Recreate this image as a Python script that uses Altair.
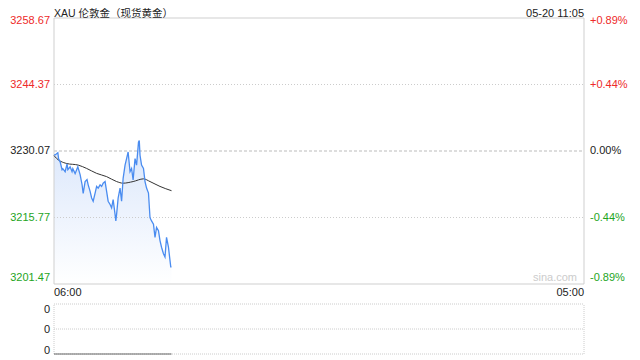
import altair as alt
import pandas as pd

# ---------------- data ----------------
title_text = "XAU 伦敦金（现货黄金）"
stamp_text = "05-20 11:05"
prev_close = 3230.07

# minutes after 06:00 (session 06:00 -> 05:00 = 1380 min)
minutes = [0, 3, 10, 12, 16, 21, 23, 29, 34, 36, 42, 47, 49, 55, 60, 62, 68, 73, 76, 81,
           86, 89, 94, 98, 102, 107, 111, 115, 120, 124, 128, 133, 137, 141, 146, 150, 154,
           159, 161, 163, 167, 172, 176, 180, 185, 189, 193, 198, 202, 206, 211, 215, 220,
           222, 224, 228, 233, 237, 241, 246, 250, 254, 259, 263, 267, 272, 276, 280, 285,
           289, 293, 298, 302, 304, 306]
prices = [3229.22, 3229.22, 3229.71, 3228.38, 3227.74, 3226.05, 3226.26, 3225.62, 3227.32,
          3226.05, 3226.68, 3225.62, 3226.26, 3225.20, 3226.26, 3226.68, 3224.99, 3222.87,
          3220.96, 3223.50, 3223.93, 3222.80, 3221.39, 3219.97, 3219.27, 3221.03, 3222.45,
          3222.09, 3222.80, 3222.45, 3223.15, 3223.50, 3221.39, 3219.27, 3218.57, 3217.85,
          3219.63, 3216.45, 3215.03, 3216.45, 3219.97, 3222.09, 3219.27, 3224.20, 3227.04,
          3228.44, 3229.86, 3225.62, 3226.32, 3223.86, 3228.44, 3227.04, 3231.98, 3232.34,
          3229.16, 3227.04, 3226.32, 3223.50, 3222.09, 3221.03, 3215.73, 3215.03, 3214.33,
          3211.50, 3213.62, 3212.92, 3210.80, 3209.38, 3207.98, 3207.26, 3211.50, 3209.38,
          3206.56, 3205.14, 3205.14]

avg_minutes = [0, 3, 33, 63, 85, 111, 137, 163, 180, 206, 233, 250, 276, 306]
avg_prices = [3229.10, 3228.80, 3227.38, 3227.04, 3226.32, 3225.26, 3224.56, 3223.50,
              3223.15, 3223.50, 3224.08, 3223.50, 3222.45, 3221.53]

price_levels = [3258.67, 3244.37, 3230.07, 3215.77, 3201.47]
pct_labels = ["+0.89%", "+0.44%", "0.00%", "-0.44%", "-0.89%"]
grid_levels = [3244.37, 3215.77]
time_labels = ["06:00", "05:00"]
time_minutes = [0, 1380]
vol_minutes = [0, 306]
vol_values = [0, 0]
vol_levels = [2, 1, 0]
vol_labels = ["0", "0", "0"]

# ---------------- styling ----------------
FONT = "Liberation Sans, Arial, Noto Sans CJK SC"
RED = "#ee2a2a"
GREEN = "#1ea51e"
DARK = "#222222"
FRAME = "#cfcfcf"
W, H, PH = 530, 336, 266
VTOP = 286
XMAX = 1380

xs = alt.Scale(domain=[0, XMAX], nice=False, zero=False)
ys = alt.Scale(domain=[price_levels[-1], price_levels[0]], range=[PH, 0], nice=False, zero=False)
vs = alt.Scale(domain=[0, 2], range=[H, VTOP], nice=False, zero=False)

df = pd.DataFrame({"minute": minutes, "price": prices})
avg_df = pd.DataFrame({"minute": avg_minutes, "avg": avg_prices})
lev_df = pd.DataFrame({"level": price_levels, "pct": pct_labels})
grid_df = pd.DataFrame({"level": grid_levels})
zero_df = pd.DataFrame({"level": [prev_close]})
frame_df = pd.DataFrame({
    "x": [0, XMAX, 0, 0], "x2": [0, XMAX, XMAX, XMAX],
    "y": [price_levels[0], price_levels[0], price_levels[0], price_levels[-1]],
    "y2": [price_levels[-1], price_levels[-1], price_levels[0], price_levels[-1]],
})

gradient = alt.Gradient(
    gradient="linear",
    stops=[alt.GradientStop(color="#ffffff", offset=0),
           alt.GradientStop(color="#d8e5fb", offset=1)],
    x1=1, x2=1, y1=1, y2=0,
)

area = alt.Chart(df).mark_area(color=gradient, opacity=0.95).encode(
    x=alt.X("minute:Q", scale=xs, axis=None),
    y=alt.Y("price:Q", scale=ys, axis=None),
    y2=alt.datum(price_levels[-1]),
)
grid = alt.Chart(grid_df).mark_rule(color="#cccccc", strokeDash=[1, 2], strokeWidth=1).encode(
    y=alt.Y("level:Q", scale=ys, axis=None), x=alt.value(0), x2=alt.value(W))
zero_line = alt.Chart(zero_df).mark_rule(color="#bbbbbb", strokeDash=[3, 2], strokeWidth=1).encode(
    y=alt.Y("level:Q", scale=ys, axis=None), x=alt.value(0), x2=alt.value(W))
frame = alt.Chart(frame_df).mark_rule(color=FRAME, strokeWidth=1).encode(
    x=alt.X("x:Q", scale=xs, axis=None), x2="x2:Q",
    y=alt.Y("y:Q", scale=ys, axis=None), y2="y2:Q")
line = alt.Chart(df).mark_line(color="#4a8cf0", strokeWidth=1.3).encode(
    x=alt.X("minute:Q", scale=xs, axis=None),
    y=alt.Y("price:Q", scale=ys, axis=None))
avg = alt.Chart(avg_df).mark_line(color="#333333", strokeWidth=1, interpolate="monotone").encode(
    x=alt.X("minute:Q", scale=xs, axis=None),
    y=alt.Y("avg:Q", scale=ys, axis=None))

color_enc = alt.Color("sign:N", scale=alt.Scale(domain=["up", "flat", "down"], range=[RED, DARK, GREEN]), legend=None)


def level_labels(expr, dy):
    base = alt.Chart(lev_df).transform_calculate(
        sign=f"datum.level > {prev_close} ? 'up' : (datum.level < {prev_close} ? 'down' : 'flat')"
    ).transform_filter(expr)
    left = base.mark_text(align="right", baseline="middle", dy=dy, fontSize=11, font=FONT).encode(
        x=alt.value(-4), y=alt.Y("level:Q", scale=ys, axis=None),
        text=alt.Text("level:Q", format=".2f"), color=color_enc)
    right = base.mark_text(align="left", baseline="middle", dy=dy, fontSize=11, font=FONT).encode(
        x=alt.value(W + 6), y=alt.Y("level:Q", scale=ys, axis=None),
        text="pct:N", color=color_enc)
    return left + right


top_lbl = level_labels(f"datum.level >= {price_levels[0]}", 3)
mid_lbl = level_labels(f"datum.level < {price_levels[0]} && datum.level > {price_levels[-1]}", 0)
bot_lbl = level_labels(f"datum.level <= {price_levels[-1]}", -6)

title = alt.Chart(pd.DataFrame({"t": [title_text]})).mark_text(
    align="left", baseline="alphabetic", fontSize=10.5, font=FONT, color=DARK).encode(
    text="t:N", x=alt.value(0), y=alt.value(-1.5))
stamp = alt.Chart(pd.DataFrame({"t": [stamp_text]})).mark_text(
    align="right", baseline="alphabetic", fontSize=11, font=FONT, color=DARK).encode(
    text="t:N", x=alt.value(W), y=alt.value(-1.5))
watermark = alt.Chart(pd.DataFrame({"t": ["sina.com"]})).mark_text(
    align="right", baseline="middle", fontSize=11, font=FONT, color="#cccccc").encode(
    text="t:N", x=alt.value(523), y=alt.value(260))

time_df = pd.DataFrame({"m": time_minutes, "t": time_labels})
t_left = alt.Chart(time_df).transform_filter("datum.m == 0").mark_text(
    align="left", baseline="middle", fontSize=11, font=FONT, color=DARK).encode(
    x=alt.X("m:Q", scale=xs, axis=None), y=alt.value(275), text="t:N")
t_right = alt.Chart(time_df).transform_filter(f"datum.m == {XMAX}").mark_text(
    align="right", baseline="middle", fontSize=11, font=FONT, color=DARK).encode(
    x=alt.X("m:Q", scale=xs, axis=None), y=alt.value(275), text="t:N")

price_layer = alt.layer(area, grid, zero_line, frame, avg, line,
                        top_lbl, mid_lbl, bot_lbl, title, stamp, watermark, t_left, t_right)

# ---------------- volume panel ----------------
vframe_df = pd.DataFrame({
    "x": [0, 0, 0, 0, XMAX], "x2": [XMAX, XMAX, XMAX, 0, XMAX],
    "y": [2, 1, 0, 0, 0], "y2": [2, 1, 0, 2, 2],
})
vframe = alt.Chart(vframe_df).mark_rule(color="#cccccc", strokeDash=[1, 1], strokeWidth=1).encode(
    x=alt.X("x:Q", scale=xs, axis=None), x2="x2:Q",
    y=alt.Y("y:Q", scale=vs, axis=None), y2="y2:Q")
vol_df = pd.DataFrame({"minute": vol_minutes, "vol": vol_values})
vline = alt.Chart(vol_df).mark_line(color="#666666", strokeWidth=1).encode(
    x=alt.X("minute:Q", scale=xs, axis=None), y=alt.Y("vol:Q", scale=vs, axis=None))
vlab_df = pd.DataFrame({"v": vol_levels, "t": vol_labels})


def vlabel(expr, dy):
    return alt.Chart(vlab_df).transform_filter(expr).mark_text(
        align="right", baseline="middle", dy=dy, fontSize=11, font=FONT, color=DARK).encode(
        x=alt.value(-4), y=alt.Y("v:Q", scale=vs, axis=None), text="t:N")


vol_layer = alt.layer(vframe, vline, vlabel("datum.v == 2", 6), vlabel("datum.v == 1", 1),
                      vlabel("datum.v == 0", -3))

chart = alt.layer(price_layer, vol_layer).resolve_scale(y="independent").properties(
    width=W, height=H,
    padding={"left": 46, "top": 10, "right": 48, "bottom": 6},
    autosize=alt.AutoSizeParams(type="none"),
).configure_view(stroke=None)

chart.save("out.html", embed_options={"renderer": "svg", "actions": False})
